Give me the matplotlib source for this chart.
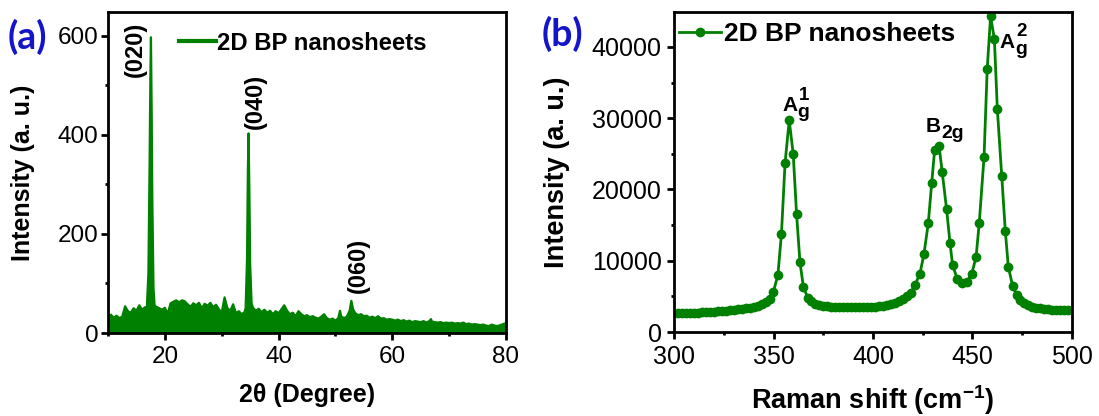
import numpy as np
import matplotlib
matplotlib.use('Agg')
import matplotlib.pyplot as plt
from matplotlib.ticker import MultipleLocator

# fonte tipo Arial
plt.rcParams['font.family'] = ['Liberation Sans', 'DejaVu Sans']
plt.rcParams['mathtext.fontset'] = 'custom'
plt.rcParams['mathtext.rm'] = 'Liberation Sans'
plt.rcParams['mathtext.bf'] = 'Liberation Sans:bold'
plt.rcParams['mathtext.it'] = 'Liberation Sans:italic'

verde = '#008000'
azul = '#1414c8'

# ---------------- dados XRD (a) ----------------
two_theta = [10.0, 10.5, 11.0, 11.5, 12.0, 12.5, 13.0, 13.5, 14.0, 14.5, 15.0, 15.5, 16.0, 16.5,
             16.8, 17.1, 17.3, 17.45, 17.55, 17.65, 17.8, 18.0, 18.2,
             18.5, 19.0, 19.5, 20.0, 20.5, 21.0, 21.5, 22.0, 22.5, 23.0, 23.5, 24.0, 24.5, 25.0,
             25.5, 26.0, 26.5, 27.0, 27.5, 28.0, 28.5, 29.0, 29.5, 30.0, 30.5, 31.0, 31.5, 32.0,
             32.5, 33.0, 33.5, 34.0,
             34.2, 34.45, 34.6, 34.72, 34.85, 35.0, 35.25,
             35.5, 36.0, 36.5, 37.0, 37.5, 38.0, 38.5, 39.0, 39.5, 40.0, 40.5, 41.0, 41.5, 42.0,
             42.5, 43.0, 43.5, 44.0, 44.5, 45.0, 45.5, 46.0, 46.5, 47.0, 47.5, 48.0, 48.5, 49.0,
             49.5, 50.0, 50.5, 50.8, 51.0, 51.5, 52.0,
             52.5, 52.8, 53.1, 53.5,
             54.0, 54.5, 55.0, 55.5, 56.0, 56.5, 57.0, 57.5, 58.0, 58.5, 59.0, 59.5, 60.0, 60.5,
             61.0, 61.5, 62.0, 62.5, 63.0, 63.5, 64.0, 64.5, 65.0, 65.5, 66.0, 66.5, 66.8, 67.0,
             67.5, 68.0, 68.5, 69.0, 69.5, 70.0, 70.5, 71.0, 71.5, 72.0, 72.5, 73.0, 73.5, 74.0,
             74.5, 75.0, 75.5, 76.0, 76.5, 77.0, 77.5, 78.0, 78.5, 79.0, 79.5, 80.0]
xrd_int = [34, 37, 31, 35, 30, 33, 54, 44, 41, 50, 45, 56, 47, 52,
           45, 120, 330, 520, 597, 480, 260, 90, 55,
           53, 50, 47, 51, 39, 60, 63, 66, 62, 66, 64, 58, 53, 60,
           56, 61, 50, 59, 55, 61, 52, 57, 48, 41, 72, 50, 45, 58,
           40, 44, 38, 42,
           50, 150, 330, 403, 300, 140, 60,
           51, 45, 49, 42, 47, 41, 45, 38, 44, 40, 48, 56, 45, 38,
           41, 34, 44, 38, 34, 36, 32, 34, 31, 29, 33, 38, 30, 27,
           29, 25, 30, 45, 34, 30, 33,
           45, 65, 48, 40,
           36, 38, 34, 35, 31, 33, 30, 34, 29, 30, 27, 28, 27, 25,
           27, 24, 26, 23, 25, 22, 24, 23, 22, 24, 21, 24, 28, 23,
           22, 21, 22, 20, 21, 20, 21, 19, 20, 19, 21, 18, 19, 17,
           18, 17, 16, 17, 15, 14, 17, 15, 14, 16, 18, 20]

# ---------------- dados Raman (b) ----------------
raman_shift = [300, 302, 304, 306, 308, 310, 312, 314, 316, 318, 320, 322, 324, 326, 328,
               330, 332, 334, 336, 338, 340, 342, 344, 346, 348,
               349.9, 352.2, 354.0, 355.8, 357.9, 359.9, 361.6, 363.3, 365.0, 367.2,
               369, 371, 373, 375, 377, 379, 381, 383, 385, 387, 389, 391, 393, 395, 397,
               399, 401, 403, 405, 407, 409, 411, 413, 415, 417, 419,
               421.1, 423.6, 425.6, 427.8, 429.5, 431.0, 433.2, 434.8, 437.0, 438.7, 440.0,
               442.4, 444.6, 447.1, 449.6, 451.8, 453.4, 455.8, 457.4, 459.1, 461.0, 462.5,
               464.7, 466.5, 468.0, 470.2, 472.2,
               474, 476, 478, 480, 482, 484, 486, 488, 490, 492, 494, 496, 498, 500]
raman_int = [2700, 2700, 2700, 2700, 2710, 2720, 2730, 2750, 2780, 2810, 2840, 2880, 2920, 2970, 3030,
             3090, 3160, 3240, 3330, 3430, 3550, 3700, 3900, 4200, 4650,
             5600, 8000, 13800, 23700, 29700, 25000, 16500, 9800, 6350, 4800,
             4300, 4000, 3800, 3680, 3600, 3550, 3510, 3480, 3460, 3450, 3440, 3440, 3440, 3450, 3460,
             3480, 3520, 3580, 3660, 3770, 3910, 4090, 4320, 4620, 4990, 5500,
             6600, 8200, 10900, 15300, 20900, 25600, 26100, 22400, 17200, 12500, 9400,
             7400, 6850, 7050, 8150, 10500, 15300, 24500, 36900, 44300, 41100, 31250,
             21900, 14200, 9150, 6450, 5200,
             4500, 4050, 3750, 3550, 3420, 3330, 3250, 3200, 3150, 3110, 3080, 3060, 3040, 3020]

# rotulos dos picos
xrd_picos = ['(020)', '(040)', '(060)']
xrd_pos = [(14.8, 572), (35.9, 467), (54.0, 137)]
# (letra, subscrito, sobrescrito, x esquerda, y da linha base)
raman_picos = [('A', 'g', '1', 354.3, 31000),
               ('B', '2g', '', 426.4, 28100),
               ('A', 'g', '2', 463.6, 39900)]


def estilo(ax, tam):
    for s in ax.spines.values():
        s.set_linewidth(2)
    ax.tick_params(which='both', direction='out', width=2, top=False, right=False,
                   labelsize=tam)
    ax.tick_params(which='major', length=5)
    ax.tick_params(which='minor', length=2.5)


fig = plt.figure(figsize=(10.99, 4.16), dpi=100)

# ---- painel (a) ----
ax1 = fig.add_axes([0.0983, 0.1995, 0.3621, 0.7716])
ax1.fill_between(two_theta, xrd_int, 0, color=verde, lw=0)
ax1.plot(two_theta, xrd_int, color=verde, lw=1.6, label='2D BP nanosheets')
ax1.set_xlim(10, 80)
ax1.set_ylim(0, 648)
ax1.xaxis.set_major_locator(MultipleLocator(20))
ax1.xaxis.set_minor_locator(MultipleLocator(10))
ax1.yaxis.set_major_locator(MultipleLocator(200))
ax1.yaxis.set_minor_locator(MultipleLocator(100))
estilo(ax1, 17.5)
ax1.tick_params(axis='y', pad=2)
ax1.tick_params(axis='x', pad=4)
ax1.set_xlabel('2θ (Degree)', fontsize=18, fontweight='bold')
ax1.set_ylabel('Intensity (a. u.)', fontsize=18, fontweight='bold')
ax1.xaxis.set_label_coords(0.5, -0.155)
ax1.yaxis.set_label_coords(-0.183, 0.5)
for txt, (px, py) in zip(xrd_picos, xrd_pos):
    ax1.text(px, py, txt, rotation=90, ha='center', va='center',
             fontsize=17, fontweight='bold')
leg1 = ax1.legend(loc='center left', bbox_to_anchor=(0.178, 0.903), frameon=False,
                  handlelength=1.55, handletextpad=0.05,
                  borderpad=0, borderaxespad=0, prop={'weight': 'bold', 'size': 17.2})
leg1.get_lines()[0].set_linewidth(3)

# ---- painel (b) ----
ax2 = fig.add_axes([0.6133, 0.2019, 0.3621, 0.7692])
ax2.plot(raman_shift, raman_int, color=verde, lw=2.0, marker='o', ms=6,
         label='2D BP nanosheets')
ax2.set_xlim(300, 500)
ax2.set_ylim(0, 44900)
ax2.xaxis.set_major_locator(MultipleLocator(50))
ax2.xaxis.set_minor_locator(MultipleLocator(25))
ax2.yaxis.set_major_locator(MultipleLocator(10000))
ax2.yaxis.set_minor_locator(MultipleLocator(5000))
estilo(ax2, 18)
ax2.tick_params(axis='y', pad=4)
ax2.tick_params(axis='x', pad=4)
ax2.set_xlabel(r'Raman shift (cm$^{\mathbf{-1}}$)', fontsize=19.5, fontweight='bold')
ax2.set_ylabel('Intensity (a. u.)', fontsize=19.5, fontweight='bold')
ax2.xaxis.set_label_coords(0.5, -0.16)
ax2.yaxis.set_label_coords(-0.261, 0.5)
for letra, sub, sup, px, py in raman_picos:
    base = ax2.text(px, py, letra, ha='left', va='baseline', fontsize=15,
                    fontweight='bold')
    ax2.annotate(sub, xy=(1, 0), xycoords=base, xytext=(0.3, -1.5),
                 textcoords='offset points', ha='left', va='baseline',
                 fontsize=14, fontweight='bold')
    if sup:
        ax2.annotate(sup, xy=(1, 1), xycoords=base, xytext=(1.5, -2.5),
                     textcoords='offset points', ha='left', va='baseline',
                     fontsize=13.5, fontweight='bold')
leg2 = ax2.legend(loc='center left', bbox_to_anchor=(0.012, 0.931), frameon=False,
                  handlelength=1.6, handletextpad=0.1, numpoints=1,
                  borderpad=0, borderaxespad=0, prop={'weight': 'bold', 'size': 19})

# rotulos (a) e (b)
fig.text(0.007, 0.912, '(a)', color=azul, fontsize=27, fontweight='bold',
         family='Lato', va='center')
fig.text(0.493, 0.918, '(b)', color=azul, fontsize=27, fontweight='bold',
         family='Lato', va='center')

fig.savefig('out.png', dpi=100)
